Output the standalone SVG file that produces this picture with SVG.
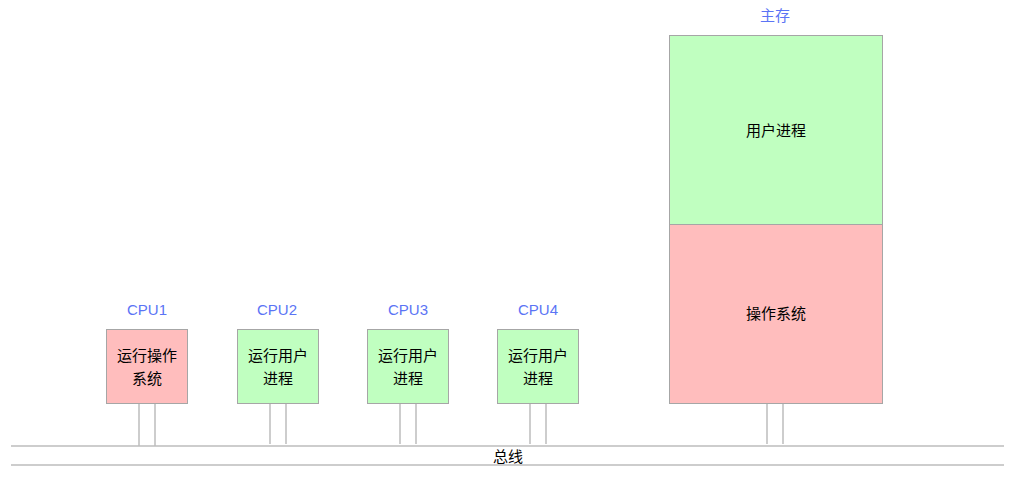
<svg xmlns="http://www.w3.org/2000/svg" width="1019" height="482" viewBox="0 0 1019 482">
<style>
.t{font-family:"Liberation Sans","Noto Sans CJK SC",sans-serif;font-size:15px;fill:#000;text-anchor:middle}
.lbl{fill:#5b74f5}
.red{fill:#ffbdbd;stroke:#a6a6a6;stroke-width:1}
.grn{fill:#c0ffc0;stroke:#a6a6a6;stroke-width:1}
.ln{stroke:#bdbdbd;stroke-width:1.5;fill:none}
</style>
<rect width="1019" height="482" fill="#fff"/>
<g id="connectors">
<line class="ln" x1="11" y1="446" x2="1004" y2="446"/>
<line class="ln" x1="11" y1="465" x2="1004" y2="465"/>
<path class="ln" d="M139 404V446M155 404V446"/>
<path class="ln" d="M270 404V444M286 404V444"/>
<path class="ln" d="M400 404V444M416 404V444"/>
<path class="ln" d="M530 404V444M546 404V444"/>
<path class="ln" d="M767 404V444M783 404V444"/>
<text class="t" x="508" y="462">总线</text>
</g>
<g id="cpu1">
<text class="t lbl" x="147" y="315">CPU1</text>
<rect class="red" x="106.5" y="329.5" width="81" height="74"/>
<text class="t" x="147" y="361">运行操作</text>
<text class="t" x="147" y="384">系统</text>
</g>
<g id="cpu2">
<text class="t lbl" x="277" y="315">CPU2</text>
<rect class="grn" x="237.5" y="329.5" width="81" height="74"/>
<text class="t" x="278" y="361">运行用户</text>
<text class="t" x="278" y="384">进程</text>
</g>
<g id="cpu3">
<text class="t lbl" x="408" y="315">CPU3</text>
<rect class="grn" x="367.5" y="329.5" width="81" height="74"/>
<text class="t" x="408" y="361">运行用户</text>
<text class="t" x="408" y="384">进程</text>
</g>
<g id="cpu4">
<text class="t lbl" x="538" y="315">CPU4</text>
<rect class="grn" x="497.5" y="329.5" width="81" height="74"/>
<text class="t" x="538" y="361">运行用户</text>
<text class="t" x="538" y="384">进程</text>
</g>
<g id="memory">
<text class="t lbl" x="775" y="21">主存</text>
<rect class="grn" x="669.5" y="35.5" width="213" height="189"/>
<rect class="red" x="669.5" y="224.5" width="213" height="179"/>
<text class="t" x="776" y="136">用户进程</text>
<text class="t" x="776" y="319">操作系统</text>
</g>
</svg>
